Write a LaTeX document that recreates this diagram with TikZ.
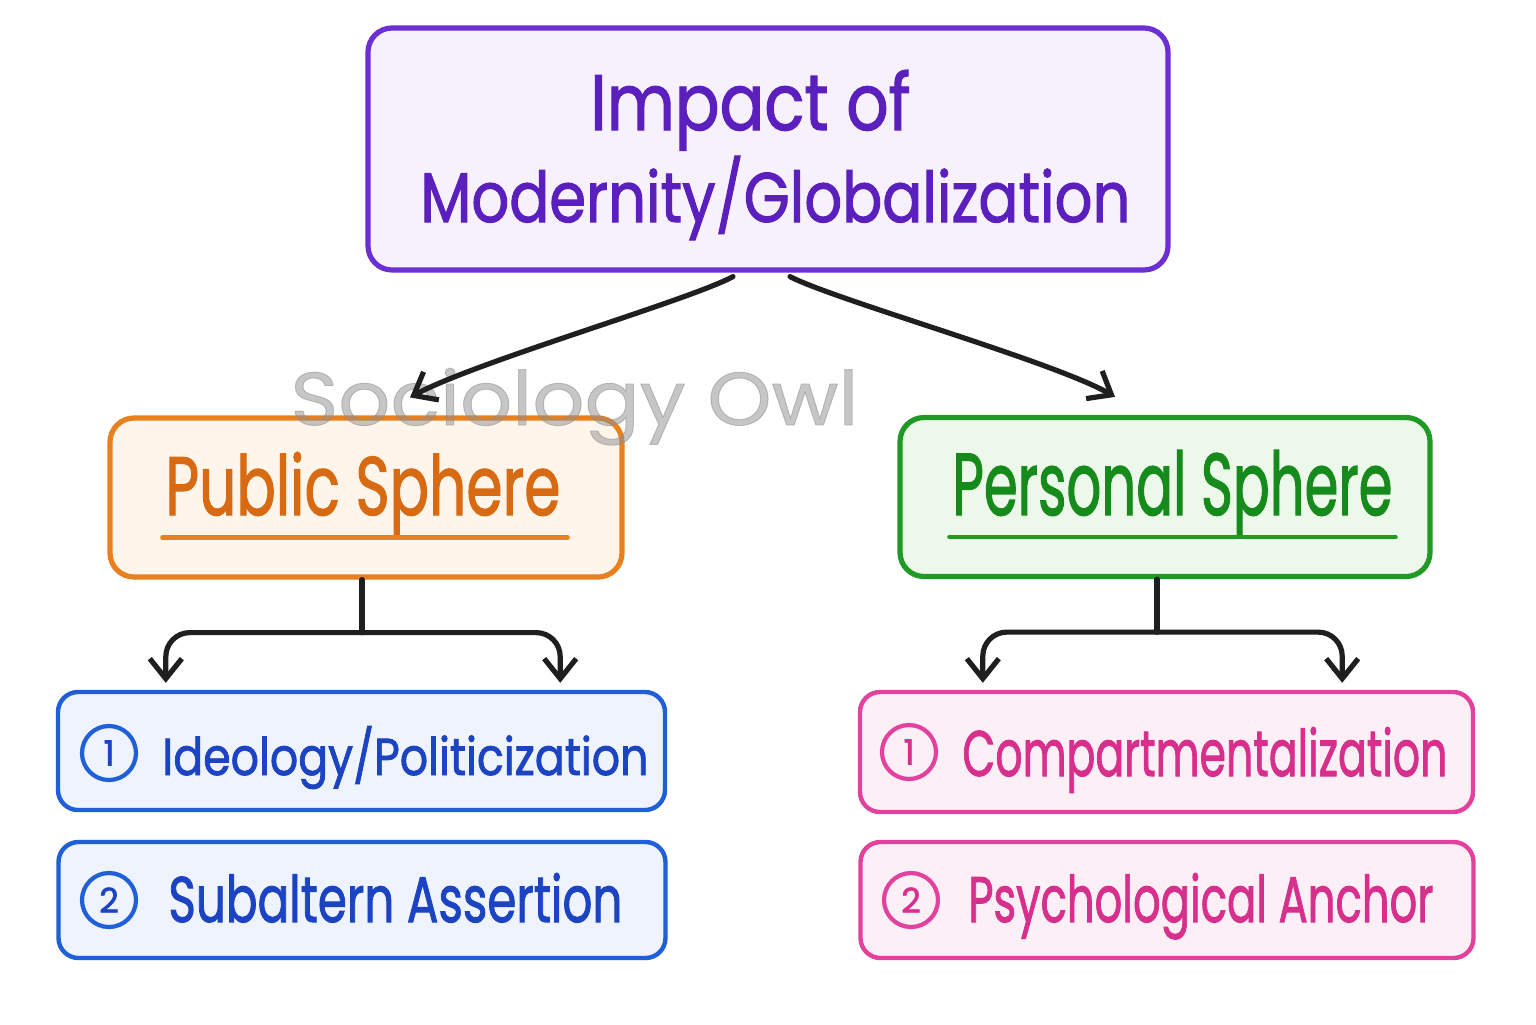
\documentclass[tikz,border=0pt]{standalone}
\usepackage{graphicx}
\usepackage{fontspec}
\setmainfont{Poppins}
\newfontfamily\hand[FakeBold=1.6]{Poppins}
\newfontfamily\wmfont[FakeBold=1.2]{Poppins}
\usetikzlibrary{arrows.meta,calc}
\definecolor{purB}{HTML}{6B2FD3}
\definecolor{purT}{HTML}{5A1FBC}
\definecolor{purF}{HTML}{F6F1FC}
\definecolor{orgB}{HTML}{E9801F}
\definecolor{orgT}{HTML}{D76A12}
\definecolor{orgF}{HTML}{FFF5EA}
\definecolor{grnB}{HTML}{1F9A24}
\definecolor{grnT}{HTML}{168A1B}
\definecolor{grnF}{HTML}{EBF8EA}
\definecolor{bluB}{HTML}{1F5FD8}
\definecolor{bluT}{HTML}{1B43C2}
\definecolor{bluF}{HTML}{EEF3FD}
\definecolor{pnkB}{HTML}{E2419D}
\definecolor{pnkT}{HTML}{D7308C}
\definecolor{pnkF}{HTML}{FDEFF6}
\definecolor{wmark}{HTML}{8E8E8E}
\newcommand{\fitto}[3]{\resizebox{#1pt}{#2pt}{\hand #3}}
\begin{document}
\begin{tikzpicture}[x=0.5pt,y=-0.5pt,
  box/.style={rectangle, rounded corners=12pt, inner sep=0pt},
  bigbox/.style={box, line width=2.6pt},
  smallbox/.style={box, rounded corners=10pt, line width=2.2pt},
  txt/.style={inner sep=0pt, anchor=base west},
  conn/.style={line width=2.6pt, draw=black!88, line cap=round, line join=round,
    -{Straight Barb[length=10pt,width=16pt]}},
  plain/.style={line width=2.6pt, draw=black!88, line cap=round},
  numc/.style={circle, minimum size=27pt, inner sep=0pt, line width=2.1pt},
  uline/.style={line width=2.2pt, line cap=round}
]
\useasboundingbox (0,0) rectangle (1536,1024);
\fill[white] (0,0) rectangle (1536,1024);

% boxes
\node[bigbox, draw=purB, fill=purF, minimum width=400pt, minimum height=121pt] (title) at (768,149) {};
\node[bigbox, draw=orgB, fill=orgF, minimum width=256pt, minimum height=79.5pt] (pub) at (366,497.5) {};
\node[bigbox, draw=grnB, fill=grnF, minimum width=265pt, minimum height=79.5pt] (per) at (1165,497) {};
\node[smallbox, draw=bluB, fill=bluF, minimum width=303.5pt, minimum height=59pt] (b1) at (361.5,751) {};
\node[smallbox, draw=bluB, fill=bluF, minimum width=303.5pt, minimum height=58pt] (b2) at (362,900) {};
\node[smallbox, draw=pnkB, fill=pnkF, minimum width=306.5pt, minimum height=60pt] (k1) at (1166.5,752) {};
\node[smallbox, draw=pnkB, fill=pnkF, minimum width=306.5pt, minimum height=58pt] (k2) at (1167,900) {};

% texts
\node[txt, text=purT] (t1) at (590,130) {\fitto{160}{30}{Impact of}};
\node[txt, text=purT] (t2) at (420,222) {\fitto{355}{33}{Modernity/Globalization}};
\node[txt, text=orgT] (tp) at (165,515) {\fitto{197.5}{31.5}{Public Sphere}};
\node[txt, text=grnT] (tq) at (952,515) {\fitto{220}{32.5}{Personal Sphere}};
\node[txt, text=bluT] (tb1) at (162,775) {\fitto{243}{24.5}{Ideology/Politicization}};
\node[txt, text=bluT] (tb2) at (168,922) {\fitto{227}{24.5}{Subaltern Assertion}};
\node[txt, text=pnkT] (tk1) at (962,776) {\fitto{242.5}{24.5}{Compartmentalization}};
\node[txt, text=pnkT] (tk2) at (968,922) {\fitto{232.5}{24.5}{Psychological Anchor}};

% underlines
\draw[uline, draw=orgB] ($(pub.south west)+(55,-42)$) -- ($(pub.south east)+(-57,-42)$);
\draw[uline, draw=grnB] ($(per.south west)+(52,-42)$) -- ($(per.south east)+(-37,-42)$);

% numbers
\node[numc, draw=bluB, text=bluT] (n1) at (109,753) {\resizebox{!}{12.5pt}{\hand 1}};
\node[numc, draw=bluB, text=bluT] (n2) at (109,900) {\resizebox{!}{12.5pt}{\hand 2}};
\node[numc, draw=pnkB, text=pnkT] (n3) at (909,752) {\resizebox{!}{12.5pt}{\hand 1}};
\node[numc, draw=pnkB, text=pnkT] (n4) at (911,900) {\resizebox{!}{12.5pt}{\hand 2}};

% watermark
\node[txt, text=wmark, opacity=0.5] (wm) at (290,425) {\resizebox{284pt}{28.5pt}{\wmfont Sociology Owl}};

% main arrows
\draw[conn] ($(title.south)+(-35,4)$) .. controls (690,300) and (475,362) .. ($(pub.north)+(44,-18)$);
\draw[conn] ($(title.south)+(22,4)$) .. controls (835,300) and (1055,362) .. ($(per.north)+(-50,-18)$);

% left tree
\coordinate (pj) at ($(pub.south)+(-4,53)$);
\draw[plain] ($(pub.south)+(-4,0)$) -- (pj);
\draw[conn, rounded corners=12pt] (pj) -| ($(b1.north west)+(110,-7)$);
\draw[conn, rounded corners=12pt] (pj) -| ($(b1.north east)+(-107,-7)$);

% right tree
\coordinate (qj) at ($(per.south)+(-8,53)$);
\draw[plain] ($(per.south)+(-8,0)$) -- (qj);
\draw[conn, rounded corners=12pt] (qj) -| ($(k1.north west)+(125,-7)$);
\draw[conn, rounded corners=12pt] (qj) -| ($(k1.north east)+(-133,-7)$);
\end{tikzpicture}
\end{document}
